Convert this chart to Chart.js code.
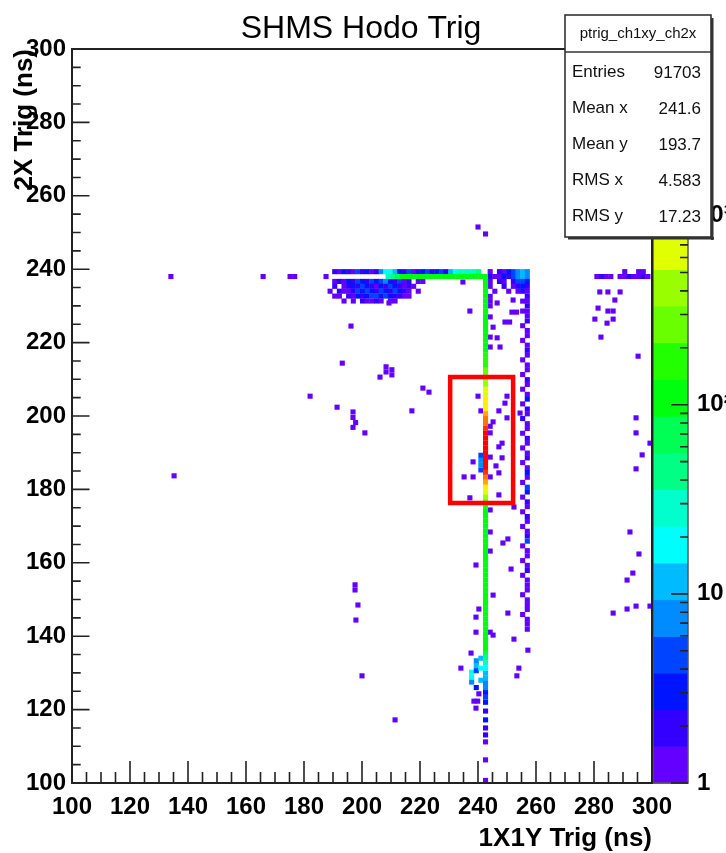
<!DOCTYPE html>
<html>
<head>
<meta charset="utf-8">
<title>SHMS Hodo Trig</title>
<script src="https://cdn.jsdelivr.net/npm/chart.js@4.4.1/dist/chart.umd.min.js"></script>
<style>
  html, body { margin: 0; padding: 0; background: #fff; overflow: hidden; }
  canvas { display: block; }
</style>
</head>
<body>
<canvas id="c" width="726" height="853"></canvas>
<script>
// ---------------- histogram content: ptrig_ch1xy_ch2x ----------------
const X_BIN = 1.6;          // 1X1Y bin width (ns)
const Y_BIN = 4 / 3;        // 2X bin width (ns)
const Z_MIN = 1;
const Z_MAX = 7600;
const N_LEVELS = 20;

const zTickValues = [1, 10, 100, 1000];
const zTickLabels = ['1', '10', '10²', '10³'];

// main 1X1Y column, one count per 2X bin starting at STEM_Y0
const STEM_X = 242.6;
const STEM_Y0 = 126.0;
const stemCounts = [
  7, 9, 11, 14, 17, 24, 40, 70, 95,
  102, 118, 96, 125, 110, 99, 131, 107, 115, 94, 121, 104, 112, 128,
  97, 109, 119, 101, 126, 113, 98, 116, 124, 105, 111, 129, 120, 134,
  165, 260, 420, 650, 900, 1500, 2400, 4200,
  6200, 7000, 7450, 7300, 6900, 6500, 5900, 5200,
  3800, 3000, 2300, 1700, 1150, 950, 850, 700, 560, 480, 380, 300, 250, 200, 170, 140,
  128, 112, 119, 103, 131, 108, 97, 122, 115, 106, 126, 99, 117, 110, 124,
  121
];

// neighbouring column left of the peak
const stemLeftCells = [[241.0, 185.3, 5], [241.0, 186.7, 7], [241.0, 188.0, 6], [241.0, 189.3, 4]];

// small blob at the foot of the column
const footCells = [
  [237.8, 130.2, 16], [237.8, 128.9, 22], [237.8, 127.5, 9],
  [239.4, 133.3, 8], [239.4, 132.0, 12], [239.4, 130.6, 4], [239.4, 126.0, 3],
  [241.0, 134.0, 14], [241.0, 131.3, 18], [241.0, 128.0, 10]
];

// sparse tail below the column
const tailCells = [
  [242.6, 124.7, 3], [242.6, 123.4, 4], [242.6, 122.0, 3], [242.6, 119.6, 2],
  [242.6, 117.2, 3], [242.6, 115.0, 2], [242.6, 113.1, 2], [242.6, 111.2, 1],
  [242.6, 106.3, 1], [242.6, 100.7, 1]
];

// horizontal band at 2X ~ 238 ns
const ROW_A_X0 = 190.6, ROW_A_Y = 239.33;
const rowACounts = [
  2, 1, 3, 2, 1, 4, 2, 3, 1, 2,
  9, 15, 18, 12,
  3, 2, 4, 1, 2, 3, 5, 2, 3, 4, 2,
  14, 18, 24, 30, 26, 33, 40
];
const ROW_B_X0 = 209.0, ROW_B_Y = 238.0;
const rowBCounts = [28, 45, 70, 95, 110, 104, 121, 98, 115, 130, 108, 101, 125, 117, 96, 112, 128, 106, 119, 131, 116];

// dense cluster under the band (rows from the top down)
const CLUSTER_X0 = 190.6, CLUSTER_Y_TOP = 236.67;
const clusterRows = [
  [1, 2, 1, 3, 2, 4, 3, 2, 5, 3, 4, 6, 3, 2, 4, 1, 2, 0, 1, 1],
  [2, 0, 1, 2, 3, 2, 4, 3, 2, 1, 3, 2, 5, 3, 2, 1, 2, 1, 0, 0],
  [0, 2, 1, 1, 2, 4, 3, 5, 3, 2, 4, 3, 2, 4, 3, 2, 1, 0, 1, 0],
  [1, 1, 0, 2, 1, 3, 2, 3, 4, 5, 3, 4, 3, 2, 2, 1, 1, 0, 0, 0],
  [0, 0, 1, 0, 1, 0, 2, 1, 1, 2, 1, 0, 1, 1, 0, 0, 0, 0, 0, 0]
];

// block right of the column at the top (rows from the top down)
const RIGHT_TOP_X0 = 244.2, RIGHT_TOP_Y_TOP = 239.33;
const rightTopRows = [
  [1, 0, 2, 1, 3, 4, 8, 11, 7],
  [2, 1, 1, 3, 2, 5, 6, 12, 9],
  [1, 0, 2, 1, 0, 2, 4, 5, 3],
  [1, 0, 0, 2, 0, 1, 2, 3, 2],
  [0, 1, 0, 0, 1, 0, 1, 2, 1]
];

// second column near 1X1Y = 256 ns
const rightColumnCells = [
  [257.0, 232.6, 2], [255.4, 231.3, 1], [257.0, 231.3, 1], [257.0, 230.0, 2], [255.4, 228.6, 1],
  [257.0, 228.6, 1], [257.0, 227.3, 1], [257.0, 225.9, 2], [255.4, 224.6, 1], [257.0, 223.3, 1],
  [257.0, 221.9, 1], [255.4, 220.6, 1], [257.0, 219.3, 1], [257.0, 217.9, 2], [257.0, 216.6, 1],
  [255.4, 215.3, 1], [257.0, 213.9, 1], [257.0, 212.6, 1], [255.4, 211.3, 1], [257.0, 209.9, 2],
  [257.0, 208.6, 1], [255.4, 207.3, 1], [257.0, 205.9, 1], [257.0, 204.6, 3], [255.4, 203.3, 1],
  [257.0, 201.9, 2], [257.0, 200.6, 1], [255.4, 199.3, 2], [257.0, 197.9, 1], [257.0, 196.6, 1],
  [255.4, 195.3, 1], [257.0, 193.9, 2], [257.0, 192.6, 1], [255.4, 191.3, 1], [257.0, 189.9, 1],
  [257.0, 188.6, 2], [255.4, 187.3, 1], [257.0, 185.9, 1], [257.0, 184.6, 3], [257.0, 183.3, 1],
  [255.4, 181.9, 1], [257.0, 180.6, 4], [257.0, 179.3, 3], [255.4, 177.9, 1], [257.0, 176.6, 2],
  [257.0, 175.3, 1], [255.4, 173.9, 1], [257.0, 172.6, 2], [257.0, 171.3, 1], [255.4, 169.9, 1],
  [257.0, 168.6, 1], [257.0, 167.3, 2], [257.0, 165.9, 4], [255.4, 164.6, 1], [257.0, 163.3, 1],
  [257.0, 161.9, 1], [255.4, 160.6, 1], [257.0, 159.3, 1], [257.0, 157.9, 2], [255.4, 156.6, 1],
  [257.0, 155.3, 1], [257.0, 153.9, 1], [257.0, 152.6, 1], [255.4, 151.3, 1], [257.0, 149.9, 1],
  [257.0, 148.6, 1], [257.0, 147.3, 1], [255.4, 145.9, 1], [257.0, 144.6, 1], [257.0, 143.3, 1],
  [257.0, 141.9, 1], [257.2, 136.2, 1]
];

// isolated entries, left part
const leftCells = [
  [134.1, 238.0, 1], [165.9, 238.0, 1], [175.2, 238.0, 1], [176.8, 238.0, 1], [187.6, 238.0, 1],
  [189.0, 234.0, 1], [135.2, 183.7, 1],
  [196.2, 224.5, 1], [209.3, 230.8, 1], [234.8, 236.5, 1], [237.2, 228.6, 1],
  [193.2, 214.4, 1], [208.3, 213.4, 1], [208.3, 212.0, 1], [210.3, 212.6, 1], [210.3, 211.2, 1],
  [206.2, 210.6, 1], [182.1, 205.4, 1], [191.4, 202.4, 1], [196.9, 201.1, 1], [196.9, 199.6, 1],
  [197.8, 198.2, 1], [196.9, 196.9, 1], [201.0, 195.4, 1], [217.2, 201.4, 1], [221.0, 207.6, 1],
  [223.1, 206.5, 1],
  [197.6, 154.0, 1], [197.6, 152.6, 1], [198.6, 148.5, 1], [197.9, 144.4, 1], [200.0, 129.2, 1],
  [211.4, 117.2, 1]
];

// isolated entries around the main column
const nearStemCells = [
  [240.0, 251.5, 1], [242.6, 249.6, 1],
  [244.2, 232.6, 1], [244.2, 231.3, 1], [244.2, 230.0, 1], [246.6, 230.8, 1], [252.1, 231.6, 1],
  [251.7, 228.3, 1], [253.3, 228.3, 1], [244.2, 227.0, 1], [245.2, 224.2, 1], [249.3, 225.6, 1],
  [250.9, 225.6, 1], [244.2, 221.5, 1], [246.6, 221.3, 1], [244.2, 218.8, 1], [247.6, 218.8, 1],
  [240.0, 205.4, 1], [250.0, 205.4, 1], [249.3, 203.5, 1], [241.0, 201.4, 1], [247.2, 201.4, 1],
  [250.0, 199.5, 1], [245.2, 198.4, 1], [244.2, 197.2, 1], [244.2, 195.4, 1], [248.3, 192.6, 1],
  [247.2, 191.6, 1], [254.5, 200.8, 1], [238.3, 187.5, 1], [244.2, 188.8, 1], [248.3, 188.6, 1],
  [246.2, 186.4, 1], [247.2, 184.5, 1], [235.2, 183.4, 1], [238.3, 183.4, 1], [244.2, 183.4, 1],
  [237.2, 177.7, 1], [247.2, 178.5, 1], [252.4, 175.2, 1],
  [244.2, 174.4, 1], [244.2, 168.4, 1], [244.2, 163.2, 1], [239.3, 159.4, 1], [248.6, 165.4, 1],
  [250.3, 166.5, 1], [251.4, 158.3, 1], [245.2, 151.2, 1], [240.3, 147.4, 1], [239.3, 145.2, 1],
  [250.3, 146.3, 1], [239.3, 141.1, 1], [244.2, 141.1, 1], [245.2, 140.3, 1], [252.4, 139.2, 1],
  [237.6, 135.4, 1], [234.1, 131.3, 1], [254.1, 131.3, 1], [253.4, 129.2, 1], [240.3, 124.3, 1],
  [238.6, 122.3, 1], [239.9, 122.3, 1], [239.3, 120.4, 1]
];

// isolated entries, right part
const farRightCells = [
  [281.0, 238.0, 1], [282.6, 238.0, 2], [284.2, 238.0, 1], [285.8, 238.0, 1], [289.0, 238.0, 1],
  [290.6, 238.0, 1], [292.2, 238.0, 2], [293.8, 238.0, 1], [295.4, 238.0, 1], [297.0, 238.0, 2],
  [298.6, 238.0, 1], [290.6, 239.33, 1], [295.4, 239.33, 1], [297.0, 239.33, 1],
  [282.0, 233.8, 1], [284.8, 233.8, 1], [289.0, 233.8, 1], [287.2, 231.6, 1], [281.4, 229.4, 1],
  [284.8, 228.6, 1], [286.6, 228.6, 1], [280.3, 226.4, 1], [286.6, 226.4, 1], [284.5, 225.3, 1],
  [282.4, 221.5, 1], [295.2, 216.3, 1], [294.5, 199.5, 1], [294.5, 195.4, 1], [299.3, 192.6, 1],
  [296.6, 189.4, 1], [294.5, 185.6, 1], [292.4, 168.4, 1], [295.5, 162.4, 1], [293.4, 157.2, 1],
  [291.4, 155.3, 1], [294.5, 148.2, 1], [291.4, 147.4, 1], [286.6, 146.3, 1], [299.3, 148.2, 1]
];

// selection window drawn over the peak (1X1Y, 2X corners)
const boxCorners = [[230.4, 176.3], [252.1, 176.3], [252.1, 210.6], [230.4, 210.6], [230.4, 176.3]];

// statistics panel
const statsTitle = 'ptrig_ch1xy_ch2x';
const statsLabels = ['Entries', 'Mean x', 'Mean y', 'RMS x', 'RMS y'];
const statsValues = ['91703', '241.6', '193.7', '4.583', '17.23'];

const chartTitle = 'SHMS Hodo Trig';
const xTitle = '1X1Y Trig (ns)';
const yTitle = '2X Trig (ns)';

// ---------------- assemble bins ----------------
const cells = [];
function addCell(x, y, n) { if (n > 0) cells.push({ x: x, y: y, n: n }); }
const addList = list => list.forEach(c => addCell(c[0], c[1], c[2]));

addList(leftCells);
addList(farRightCells);
addList(rightColumnCells);
addList(nearStemCells);
clusterRows.forEach((row, r) => row.forEach((n, i) => addCell(CLUSTER_X0 + i * X_BIN, CLUSTER_Y_TOP - r * Y_BIN, n)));
rightTopRows.forEach((row, r) => row.forEach((n, i) => addCell(RIGHT_TOP_X0 + i * X_BIN, RIGHT_TOP_Y_TOP - r * Y_BIN, n)));
rowACounts.forEach((n, i) => addCell(ROW_A_X0 + i * X_BIN, ROW_A_Y, n));
rowBCounts.forEach((n, i) => addCell(ROW_B_X0 + i * X_BIN, ROW_B_Y, n));
addList(footCells);
addList(tailCells);
addList(stemLeftCells);
stemCounts.forEach((n, i) => addCell(STEM_X, STEM_Y0 + i * Y_BIN, n));

// ---------------- colour palette (violet -> red, log z) ----------------
function levelOf(n) {
  const k = Math.floor(N_LEVELS * Math.log10(n / Z_MIN) / Math.log10(Z_MAX / Z_MIN));
  return Math.max(0, Math.min(N_LEVELS - 1, k));
}
function levelColor(k) {
  const idx = Math.floor((k + 0.99) * 50 / N_LEVELS);
  const hue = idx >= 49 ? 0 : 280 - (idx + 1) * 5.6;
  return 'hsl(' + hue.toFixed(1) + ',100%,50%)';
}
function cellRadius(chart) {
  const sx = chart.scales.x, sy = chart.scales.y;
  if (!sx || !sy) return 3.4;
  const w = Math.abs(sx.getPixelForValue(100 + X_BIN) - sx.getPixelForValue(100));
  const h = Math.abs(sy.getPixelForValue(100 + Y_BIN) - sy.getPixelForValue(100));
  return Math.max(w, h) / Math.SQRT2 + 0.15;
}

// ---------------- drawing helpers ----------------
const FONT = '"Liberation Sans", Arial, Helvetica, sans-serif';
Chart.defaults.font.family = FONT;

const rootDecor = {
  id: 'rootDecor',
  beforeDatasetsDraw(chart) {
    const ctx = chart.ctx, z = chart.scales.z, area = chart.chartArea;
    const x0 = area.right + 1, x1 = area.right + 36;
    ctx.save();
    const ratio = Z_MAX / Z_MIN;
    for (let k = 0; k < N_LEVELS; k++) {
      const v0 = Z_MIN * Math.pow(ratio, k / N_LEVELS);
      const v1 = Z_MIN * Math.pow(ratio, (k + 1) / N_LEVELS);
      const y0 = z.getPixelForValue(v0), y1 = z.getPixelForValue(v1);
      ctx.fillStyle = levelColor(k);
      ctx.fillRect(x0, y1, x1 - x0, y0 - y1 + 0.6);
    }
    ctx.strokeStyle = '#555';
    ctx.lineWidth = 1.5;
    ctx.strokeRect(x0, area.top, x1 - x0, area.bottom - area.top);
    // palette tick marks (inside, on the right edge)
    ctx.strokeStyle = '#222';
    ctx.lineWidth = 1.6;
    ctx.beginPath();
    for (let d = 1; d <= Z_MAX; d *= 10) {
      for (let m = 1; m <= 9; m++) {
        const v = m * d;
        if (v > Z_MAX) break;
        const y = z.getPixelForValue(v);
        const len = m === 1 ? 17 : 8;
        ctx.moveTo(x1, y); ctx.lineTo(x1 - len, y);
      }
    }
    ctx.stroke();
    ctx.restore();
  },
  afterDatasetsDraw(chart) {
    const ctx = chart.ctx, area = chart.chartArea, sx = chart.scales.x, sy = chart.scales.y;
    ctx.save();
    ctx.strokeStyle = '#222';
    ctx.lineWidth = 1.6;
    ctx.beginPath();
    for (let v = 100; v <= 300; v += 5) {
      const x = sx.getPixelForValue(v);
      const len = v % 20 === 0 ? 22 : 11;
      ctx.moveTo(x, area.bottom); ctx.lineTo(x, area.bottom - len);
      const y = sy.getPixelForValue(v);
      const leny = v % 20 === 0 ? 17.5 : 8.7;
      ctx.moveTo(area.left, y); ctx.lineTo(area.left + leny, y);
    }
    ctx.stroke();
    ctx.lineWidth = 2;
    ctx.strokeRect(area.left, area.top, area.right - area.left, area.bottom - area.top);
    ctx.restore();
  },
  afterDraw(chart) {
    const ctx = chart.ctx, area = chart.chartArea;
    ctx.save();
    ctx.fillStyle = '#000';
    // title
    ctx.font = '32px ' + FONT;
    ctx.textAlign = 'center';
    ctx.textBaseline = 'alphabetic';
    ctx.fillText(chartTitle, 361, 38);
    // axis titles
    ctx.font = 'bold 26px ' + FONT;
    ctx.textAlign = 'right';
    ctx.fillText(xTitle, area.right, 846);
    ctx.save();
    ctx.translate(32, area.top);
    ctx.rotate(-Math.PI / 2);
    ctx.textAlign = 'right';
    ctx.fillText(yTitle, 0, 0);
    ctx.restore();
    // statistics panel
    const L = 565, T = 15, R = 711, B = 237, HB = 52;
    ctx.fillStyle = '#333';
    ctx.fillRect(R, T + 3, 2.5, B - T);
    ctx.fillRect(L + 3, B, R - L, 2.5);
    ctx.fillStyle = '#fff';
    ctx.fillRect(L, T, R - L, B - T);
    ctx.strokeStyle = '#333';
    ctx.lineWidth = 1.6;
    ctx.strokeRect(L, T, R - L, B - T);
    ctx.beginPath();
    ctx.moveTo(L, HB); ctx.lineTo(R, HB);
    ctx.stroke();
    ctx.fillStyle = '#111';
    ctx.font = '15px ' + FONT;
    ctx.textAlign = 'center';
    ctx.textBaseline = 'middle';
    ctx.fillText(statsTitle, (L + R) / 2, 34);
    ctx.font = '17px ' + FONT;
    statsLabels.forEach((lab, i) => {
      const y = 72 + i * 36;
      ctx.textAlign = 'left';
      ctx.fillText(lab, L + 7, y);
      ctx.textAlign = 'right';
      ctx.fillText(statsValues[i], R - 10, y + 1);
    });
    ctx.restore();
  }
};

const tickFont = { size: 24, weight: 'bold' };

new Chart(document.getElementById('c'), {
  type: 'scatter',
  data: {
    datasets: [
      {
        type: 'line',
        label: 'window',
        data: boxCorners.map(p => ({ x: p[0], y: p[1] })),
        borderColor: '#ff0000',
        borderWidth: 4.5,
        borderJoinStyle: 'miter',
        borderCapStyle: 'square',
        pointRadius: 0,
        fill: false,
        tension: 0,
        order: 1
      },
      {
        label: statsTitle,
        data: cells,
        pointStyle: 'rect',
        pointRadius: ctx => cellRadius(ctx.chart),
        pointHoverRadius: ctx => cellRadius(ctx.chart),
        pointBackgroundColor: ctx => (ctx.raw ? levelColor(levelOf(ctx.raw.n)) : '#000'),
        pointBorderWidth: 0,
        pointBorderColor: 'rgba(0,0,0,0)',
        order: 2
      }
    ]
  },
  options: {
    responsive: false,
    animation: false,
    devicePixelRatio: 1,
    events: [],
    layout: { padding: { left: 0, top: 49, right: 0, bottom: 0 } },
    plugins: { legend: { display: false }, tooltip: { enabled: false }, title: { display: false } },
    scales: {
      x: {
        type: 'linear', position: 'bottom', min: 100, max: 300,
        grid: { display: false, drawTicks: false },
        border: { display: false },
        ticks: { stepSize: 20, padding: 10, font: tickFont, color: '#000', maxRotation: 0, autoSkip: false },
        afterFit(s) { s.height = 70; s.paddingLeft = 0; s.paddingRight = 0; }
      },
      y: {
        type: 'linear', position: 'left', min: 100, max: 300,
        grid: { display: false, drawTicks: false },
        border: { display: false },
        ticks: { stepSize: 20, padding: 6, font: tickFont, color: '#000', autoSkip: false },
        afterFit(s) { s.width = 72; s.paddingTop = 0; s.paddingBottom = 0; }
      },
      z: {
        type: 'logarithmic', position: 'right', min: Z_MIN, max: Z_MAX,
        grid: { display: false, drawTicks: false },
        border: { display: false },
        afterBuildTicks(s) { s.ticks = zTickValues.map(v => ({ value: v })); },
        ticks: {
          padding: 45, font: tickFont, color: '#000', autoSkip: false,
          callback: (v, i) => zTickLabels[i]
        },
        afterFit(s) { s.width = 74; s.paddingTop = 0; s.paddingBottom = 0; }
      }
    }
  },
  plugins: [rootDecor]
});
</script>
</body>
</html>
